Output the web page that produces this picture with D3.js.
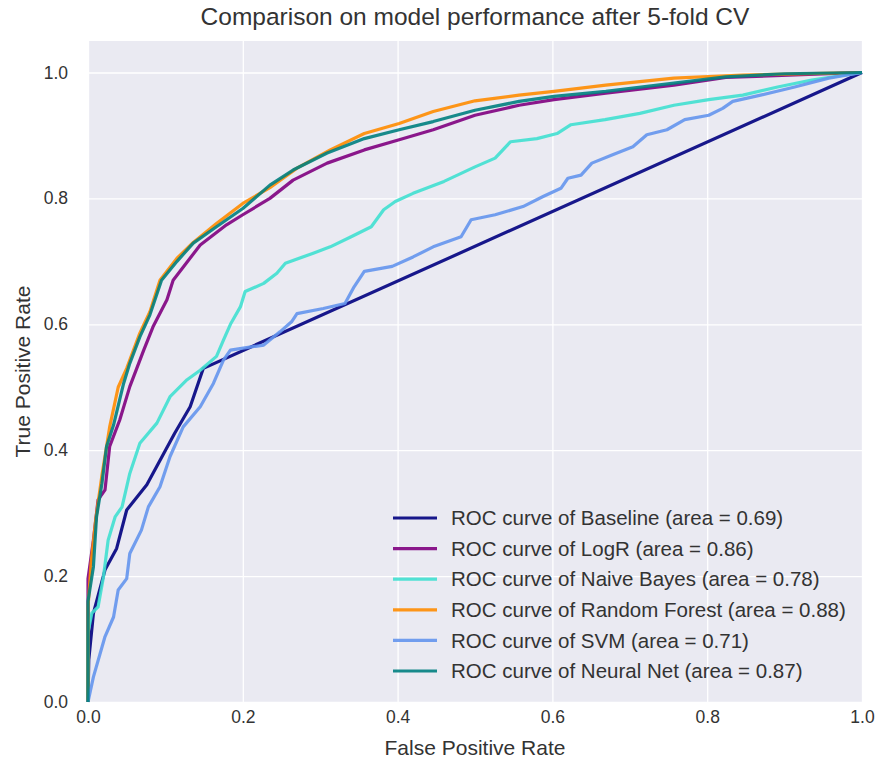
<!DOCTYPE html>
<html>
<head>
<meta charset="utf-8">
<script src="https://cdn.jsdelivr.net/npm/d3@7/dist/d3.min.js"></script>
<style>
  body { margin: 0; background: #fff; }
  svg text { font-family: "Liberation Sans", Arial, sans-serif; fill: #333; }
</style>
</head>
<body>
<svg id="chart" width="878" height="765"></svg>
<script>
// ROC curves, [fpr, tpr]
const baseline = [[0,0],[0.001,0.067],[0.007,0.141],[0.022,0.21],[0.037,0.244],[0.05,0.305],[0.076,0.345],
  [0.112,0.427],[0.132,0.469],[0.149,0.53],[1,1]];

const logR = [[0,0],[0,0.196],[0.007,0.257],[0.013,0.321],[0.022,0.337],[0.028,0.406],[0.041,0.448],
  [0.054,0.501],[0.072,0.559],[0.084,0.596],[0.102,0.639],[0.11,0.67],[0.145,0.726],[0.179,0.758],
  [0.2,0.774],[0.235,0.8],[0.265,0.829],[0.309,0.856],[0.357,0.877],[0.402,0.893],[0.446,0.909],
  [0.5,0.932],[0.557,0.948],[0.602,0.957],[0.669,0.967],[0.757,0.98],[0.824,0.992],[1,1]];

const naiveBayes = [[0,0],[0,0.11],[0.005,0.141],[0.013,0.151],[0.02,0.199],[0.026,0.257],[0.035,0.294],
  [0.044,0.31],[0.054,0.363],[0.067,0.411],[0.089,0.443],[0.106,0.485],[0.128,0.512],[0.145,0.527],
  [0.166,0.549],[0.175,0.575],[0.184,0.6],[0.197,0.628],[0.203,0.652],[0.227,0.665],[0.244,0.681],
  [0.255,0.697],[0.291,0.713],[0.313,0.723],[0.34,0.739],[0.366,0.755],[0.382,0.782],[0.397,0.795],
  [0.42,0.808],[0.46,0.827],[0.5,0.85],[0.526,0.864],[0.546,0.89],[0.58,0.895],[0.606,0.903],
  [0.624,0.917],[0.668,0.925],[0.713,0.935],[0.757,0.948],[0.802,0.957],[0.846,0.964],[0.891,0.977],
  [0.935,0.988],[1,1]];

const randomForest = [[0,0],[0,0.15],[0.004,0.22],[0.01,0.29],[0.018,0.36],[0.028,0.437],[0.039,0.5],
  [0.05,0.53],[0.067,0.586],[0.08,0.62],[0.093,0.67],[0.115,0.705],[0.136,0.73],[0.166,0.76],
  [0.2,0.792],[0.235,0.817],[0.27,0.848],[0.313,0.877],[0.357,0.903],[0.402,0.919],[0.446,0.938],
  [0.5,0.955],[0.557,0.964],[0.602,0.97],[0.669,0.98],[0.757,0.991],[0.846,0.996],[1,1]];

const svm = [[0,0],[0.007,0.04],[0.022,0.104],[0.033,0.135],[0.039,0.178],[0.05,0.196],[0.054,0.236],
  [0.069,0.273],[0.078,0.31],[0.093,0.342],[0.106,0.39],[0.123,0.437],[0.145,0.469],[0.162,0.506],
  [0.175,0.543],[0.184,0.559],[0.227,0.567],[0.248,0.588],[0.263,0.604],[0.27,0.617],[0.304,0.625],
  [0.332,0.633],[0.344,0.66],[0.357,0.684],[0.393,0.692],[0.42,0.707],[0.446,0.723],[0.482,0.739],
  [0.495,0.766],[0.526,0.774],[0.562,0.787],[0.588,0.803],[0.611,0.816],[0.62,0.832],[0.637,0.837],
  [0.651,0.856],[0.677,0.869],[0.704,0.882],[0.722,0.901],[0.748,0.909],[0.771,0.925],[0.802,0.932],
  [0.82,0.943],[0.833,0.954],[0.869,0.964],[0.913,0.977],[0.957,0.991],[1,1]];

const neuralNet = [[0,0],[0,0.16],[0.007,0.215],[0.011,0.294],[0.018,0.347],[0.024,0.406],[0.033,0.44],
  [0.046,0.506],[0.054,0.538],[0.067,0.58],[0.08,0.615],[0.095,0.67],[0.115,0.7],[0.136,0.729],
  [0.166,0.755],[0.2,0.784],[0.235,0.821],[0.265,0.845],[0.309,0.872],[0.357,0.895],[0.402,0.909],
  [0.446,0.922],[0.5,0.94],[0.557,0.954],[0.602,0.962],[0.669,0.97],[0.757,0.983],[0.824,0.993],
  [0.9,0.998],[1,1]];

const modelNames = ['Baseline', 'LogR', 'Naive Bayes', 'Random Forest', 'SVM', 'Neural Net'];
const modelAreas = ['0.69', '0.86', '0.78', '0.88', '0.71', '0.87'];
const modelColors = ['#000080', '#800080', '#40E0D0', '#FF8C00', '#6495ED', '#008080'];
const modelCurves = [baseline, logR, naiveBayes, randomForest, svm, neuralNet];

const xTicks = [0, 0.2, 0.4, 0.6, 0.8, 1.0];
const yTicks = [0, 0.2, 0.4, 0.6, 0.8, 1.0];

const margin = { top: 41, right: 16, bottom: 63, left: 88 };
const svg = d3.select('#chart');
const width = +svg.attr('width') - margin.left - margin.right;
const height = +svg.attr('height') - margin.top - margin.bottom;
const g = svg.append('g').attr('transform', `translate(${margin.left},${margin.top})`);

const x = d3.scaleLinear().domain([0, 1]).range([0, width]);
const y = d3.scaleLinear().domain([0, 1.05]).range([height, 0]);

// background + grid
g.append('rect').attr('width', width).attr('height', height).attr('fill', '#EAEAF2');

g.append('g')
  .attr('transform', `translate(0,${height})`)
  .call(d3.axisBottom(x).tickValues(xTicks).tickFormat(d3.format('.1f')).tickSize(-height).tickPadding(9))
  .call(ax => ax.select('.domain').remove())
  .call(ax => ax.selectAll('line').attr('stroke', '#fff').attr('stroke-width', 1.3))
  .call(ax => ax.selectAll('text').attr('font-size', 17.5).attr('fill', '#333'));

g.append('g')
  .call(d3.axisLeft(y).tickValues(yTicks).tickFormat(d3.format('.1f')).tickSize(-width).tickPadding(20))
  .call(ax => ax.select('.domain').remove())
  .call(ax => ax.selectAll('line').attr('stroke', '#fff').attr('stroke-width', 1.3))
  .call(ax => ax.selectAll('text').attr('font-size', 17.5).attr('fill', '#333'));

// curves
const line = d3.line().x(d => x(d[0])).y(d => y(d[1]));
const plot = g.append('g');
modelCurves.forEach((curve, i) => {
  plot.append('path')
    .datum(curve)
    .attr('fill', 'none')
    .attr('stroke', modelColors[i])
    .attr('stroke-opacity', 0.9)
    .attr('stroke-width', 3.2)
    .attr('stroke-linejoin', 'round')
    .attr('d', line);
});

// legend
const legend = g.append('g').attr('transform', `translate(${305},${477})`);
modelNames.forEach((name, i) => {
  const row = legend.append('g').attr('transform', `translate(0,${i * 30.6})`);
  row.append('line')
    .attr('x1', 0).attr('x2', 44)
    .attr('stroke', modelColors[i]).attr('stroke-opacity', 0.9).attr('stroke-width', 3.2);
  row.append('text')
    .attr('x', 58).attr('dy', '0.35em')
    .attr('font-size', 20.5)
    .text(`ROC curve of ${name} (area = ${modelAreas[i]})`);
});

// title and axis labels
svg.append('text')
  .attr('x', margin.left + width / 2).attr('y', 25)
  .attr('text-anchor', 'middle').attr('font-size', 24.5)
  .text('Comparison on model performance after 5-fold CV');

svg.append('text')
  .attr('x', margin.left + width / 2).attr('y', 755)
  .attr('text-anchor', 'middle').attr('font-size', 21)
  .text('False Positive Rate');

svg.append('text')
  .attr('transform', `translate(30,${margin.top + height / 2}) rotate(-90)`)
  .attr('text-anchor', 'middle').attr('font-size', 21)
  .text('True Positive Rate');
</script>
</body>
</html>
